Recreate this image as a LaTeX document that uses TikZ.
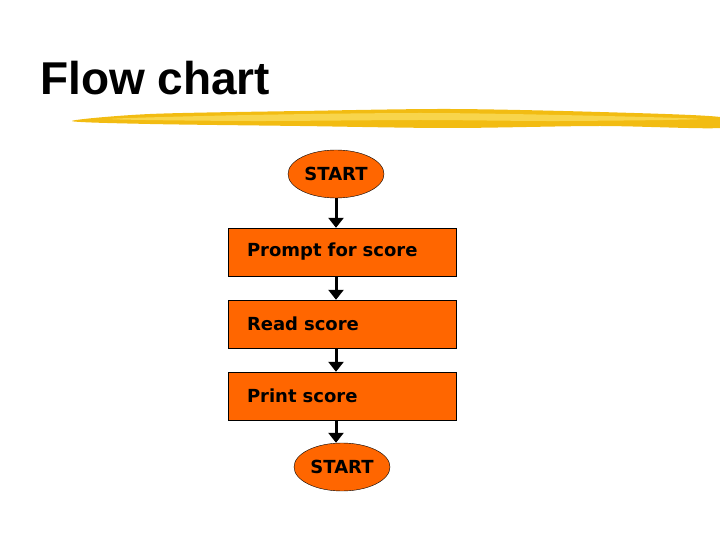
\documentclass[tikz,border=0pt]{standalone}
\usepackage{fontspec}
\setmainfont{DejaVu Sans}
\newfontfamily\titlefont{Liberation Sans}
\usetikzlibrary{shapes.geometric, arrows.meta, positioning}
\definecolor{boxorange}{HTML}{FF6600}
\definecolor{brushgold}{HTML}{F2BC12}
\definecolor{brushlight}{HTML}{FADC5A}

\begin{document}
\begin{tikzpicture}[x = 1pt, y = -1pt,
		terminal/.style = {ellipse, draw, thin, fill = boxorange, minimum width = 96pt, minimum height = 48pt, inner sep = 0pt, font = \fontsize{18}{20}\selectfont\bfseries},
		process/.style = {rectangle, draw, thin, fill = boxorange, minimum width = 228pt, minimum height = 48pt, text width = 190pt, align = left, inner sep = 0pt, font = \fontsize{18}{20}\selectfont\bfseries},
		flow/.style = {line width = 3pt, -{Triangle[length = 10pt, width = 15pt]}}]
			\useasboundingbox (0,0) rectangle (720,540);

			% title and brush stroke
			\node [anchor = base west, inner sep = 0pt, font = \titlefont\fontsize{46}{50}\selectfont\bfseries] (title) at (40,95) {Flow chart};
			\begin{scope}
				\fill [brushgold] plot [smooth cycle] coordinates {(72,121) (150,114) (300,111) (450,109) (600,112) (720,117) (720,128) (600,126) (450,128) (300,126) (150,124)};
				\fill [brushlight, opacity = 0.8] plot [smooth cycle] coordinates {(110,119) (250,115) (420,113) (560,115) (700,119) (560,121) (420,120) (250,121)};
			\end{scope}

			% chart
			\node [terminal] (start) at (336,174) {START};
			\node [process] (prompt) at (342,252) {Prompt for score};
			\node [process] (read) at (342,324) {Read score};
			\node [process] (print) at (342,396) {Print score};
			\node [terminal] (stop) at (342,467) {START};

			\begin{scope}
				\draw [flow] (start.south) -- (start.south |- prompt.north);
				\draw [flow] (prompt.south -| start.south) -- (read.north -| start.south);
				\draw [flow] (read.south -| start.south) -- (print.north -| start.south);
				\draw [flow] (print.south -| start.south) -- (start.south |- stop.north);
			\end{scope}
		\end{tikzpicture}
\end{document}
